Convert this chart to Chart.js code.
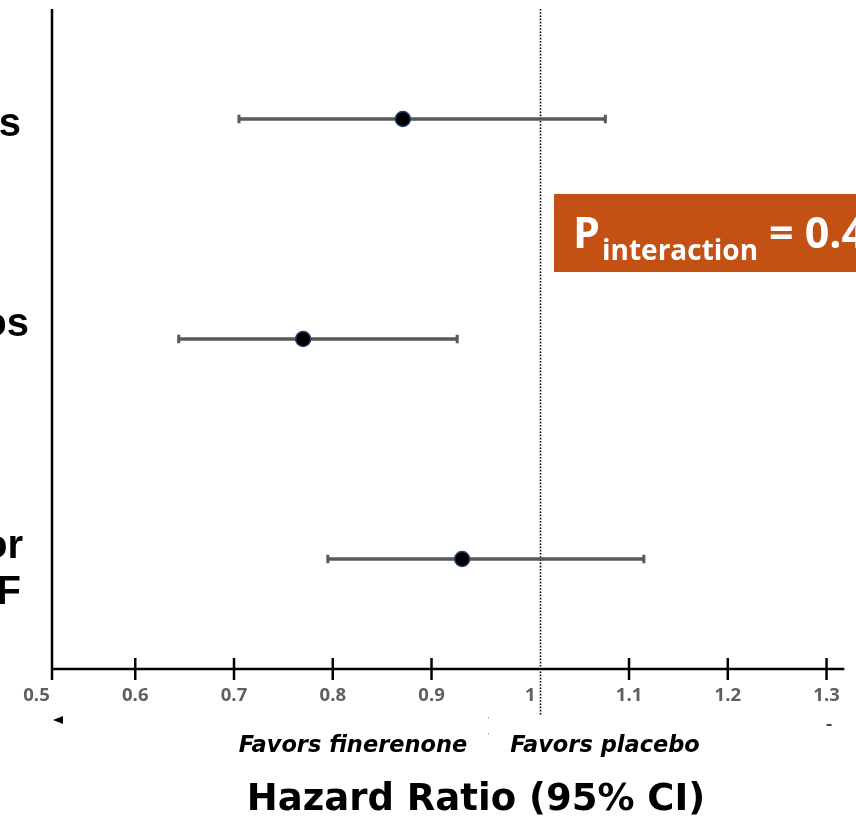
<!DOCTYPE html>
<html><head><meta charset="utf-8">
<script src="https://cdn.jsdelivr.net/npm/chart.js@4"></script>
<style>html,body{margin:0;padding:0;background:#fff;overflow:hidden}#wrap{width:856px;height:825px;position:relative}</style>
</head><body><div id="wrap"><canvas id="c" width="856" height="825"></canvas></div>
<script>
// ---- data ----
const rows = [3, 2, 1];
const hazardRatio = [0.871, 0.770, 0.931];
const ciLower = [0.705, 0.644, 0.795];
const ciUpper = [1.076, 0.926, 1.115];
const rowLabelLines = [['s'], ['os'], ['or', 'F']];
const xTickValues = [0.5, 0.6, 0.7, 0.8, 0.9, 1.0, 1.1, 1.2, 1.3];
const nullLine = 1.01;
const favorsLeft = 'Favors finerenone';
const favorsRight = 'Favors placebo';
const axisTitle = 'Hazard Ratio (95% CI)';
const pMain = 'P', pSub = 'interaction', pValue = '= 0.4';

const GREY = '#595959';
const ciSets = rows.map((r, i) => ({
  type: 'line',
  data: [{x: ciLower[i], y: r}, {x: ciUpper[i], y: r}],
  borderColor: GREY, borderWidth: 3.5, showLine: true, fill: false,
  pointStyle: 'line', pointRotation: 90, pointRadius: 4.2, pointHoverRadius: 4.2,
  pointBorderWidth: 3, pointBorderColor: GREY, pointBackgroundColor: GREY,
  order: 2
}));
const pointSet = {
  type: 'scatter',
  data: rows.map((r, i) => ({x: hazardRatio[i], y: r})),
  backgroundColor: '#000', borderColor: '#23406e', borderWidth: 1.5,
  pointRadius: 7.5, pointHoverRadius: 7.5, order: 1
};

const deco = {
  id: 'deco',
  beforeDatasetsDraw(chart) {
    const {ctx, chartArea: a, scales: {x}} = chart;
    const axisX = a.left + 15.5;
    ctx.save();
    // dotted reference line
    const nx = Math.round(x.getPixelForValue(nullLine)) + 0.5;
    ctx.strokeStyle = '#000'; ctx.lineWidth = 1.6; ctx.setLineDash([1.6, 1.6]);
    ctx.beginPath(); ctx.moveTo(nx, a.top); ctx.lineTo(nx, a.bottom + 46); ctx.stroke();
    ctx.setLineDash([]);
    // axes
    ctx.strokeStyle = '#000'; ctx.lineWidth = 2.5;
    ctx.beginPath(); ctx.moveTo(axisX, a.top); ctx.lineTo(axisX, a.bottom + 11); ctx.stroke();
    ctx.beginPath(); ctx.moveTo(axisX, a.bottom); ctx.lineTo(a.right, a.bottom); ctx.stroke();
    // crossing tick marks
    xTickValues.forEach(v => {
      const px = x.getPixelForValue(v);
      if (px < axisX + 3 || Math.abs(px - nx) < 12) return;
      ctx.beginPath(); ctx.moveTo(px, a.bottom - 11); ctx.lineTo(px, a.bottom + 11); ctx.stroke();
    });
    // small arrow remnants
    ctx.fillStyle = '#000';
    ctx.beginPath(); ctx.moveTo(axisX + 1, a.bottom + 51); ctx.lineTo(axisX + 11, a.bottom + 47); ctx.lineTo(axisX + 11, a.bottom + 55); ctx.closePath(); ctx.fill();
    ctx.fillStyle = '#444';
    ctx.fillRect(x.getPixelForValue(1.3), a.bottom + 55, 5, 2);
    ctx.fillStyle = '#bbb';
    ctx.fillRect(488, a.bottom + 48, 1, 2);
    ctx.fillRect(488, a.bottom + 64, 1, 2);
    ctx.restore();
  },
  afterDraw(chart) {
    const {ctx, scales: {y}} = chart;
    ctx.save();
    // row label fragments (cut off by the image edge)
    ctx.fillStyle = '#000'; ctx.textAlign = 'right'; ctx.textBaseline = 'alphabetic';
    ctx.font = 'bold 40px "Liberation Sans", Arial, sans-serif';
    const labelPos = [[[21, 17]], [[29, -3]], [[23, -1], [21, 45]]];
    rowLabelLines.forEach((lines, i) => {
      const py = y.getPixelForValue(rows[i]);
      lines.forEach((t, j) => ctx.fillText(t, labelPos[i][j][0], py + labelPos[i][j][1]));
    });
    // P interaction box
    ctx.fillStyle = '#C25113';
    ctx.fillRect(554, 194, 310, 78);
    ctx.fillStyle = '#fff'; ctx.textAlign = 'left';
    ctx.font = 'bold 43px "Open Sans", sans-serif';
    ctx.fillText(pMain, 573, 248);
    ctx.fillText(pValue, 769, 248);
    ctx.font = 'bold 28px "Open Sans", sans-serif';
    ctx.fillText(pSub, 602, 260);
    // favors labels
    ctx.fillStyle = '#000'; ctx.textAlign = 'center';
    ctx.font = 'italic bold 22.5px "DejaVu Sans", sans-serif';
    ctx.fillText(favorsLeft, 353, 752);
    ctx.fillText(favorsRight, 605, 752);
    // axis title
    ctx.font = 'bold 37px "DejaVu Sans", sans-serif';
    ctx.fillText(axisTitle, 476, 810);
    ctx.restore();
  }
};

new Chart(document.getElementById('c'), {
  type: 'scatter',
  data: {datasets: [pointSet, ...ciSets]},
  options: {
    responsive: false, animation: false, events: [],
    layout: {padding: {left: 36.5, right: 11, top: 8, bottom: 0}},
    plugins: {legend: {display: false}, tooltip: {enabled: false}},
    scales: {
      x: {
        type: 'linear', min: 0.5, max: 1.318,
        afterBuildTicks: s => { s.ticks = xTickValues.map(v => ({value: v})); },
        afterFit: s => { s.height = 156; },
        ticks: {
          autoSkip: false, maxRotation: 0, padding: 16, color: '#5f5f5f',
          font: {family: '"Open Sans", sans-serif', weight: 'bold', size: 18.5},
          callback: v => (v === 1 ? '1' : v.toFixed(1))
        },
        grid: {display: false, drawTicks: false},
        border: {display: false}
      },
      y: {type: 'linear', min: 0.5, max: 3.5, display: false}
    }
  },
  plugins: [deco]
});
</script>
</body></html>
